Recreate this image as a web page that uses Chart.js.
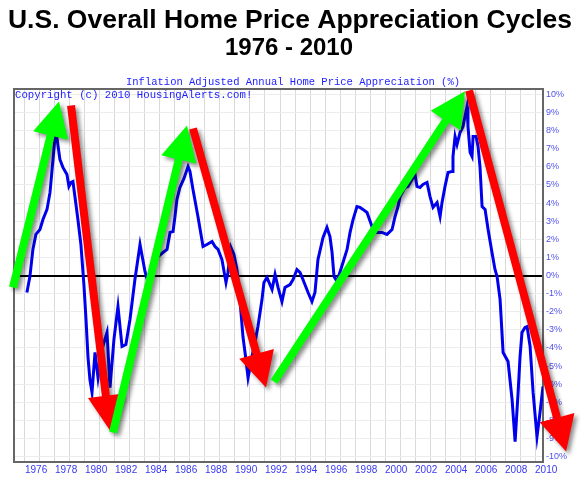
<!DOCTYPE html>
<html>
<head>
<meta charset="utf-8">
<script src="https://cdn.jsdelivr.net/npm/chart.js@4.4.1/dist/chart.umd.min.js"></script>
<style>
  html, body { margin: 0; padding: 0; background: #fff; }
  #wrap { width: 581px; height: 482px; }
</style>
</head>
<body>
<div id="wrap"><canvas id="hpaChart" width="581" height="482"></canvas></div>
<script>
// Inflation adjusted annual home price appreciation (%)
const years = [
  1976.13, 1976.33, 1976.53, 1976.73, 1977.00, 1977.20, 1977.47, 1977.67, 1977.87, 1978.00,
  1978.13, 1978.33, 1978.53, 1978.80, 1978.93, 1979.07, 1979.20, 1979.33, 1979.53, 1979.73,
  1979.93, 1980.07, 1980.20, 1980.33, 1980.47, 1980.67, 1980.87, 1981.13, 1981.47, 1981.67,
  1981.93, 1982.20, 1982.47, 1982.73, 1983.00, 1983.33, 1983.67, 1984.00, 1984.20, 1984.53,
  1984.87, 1985.20, 1985.47, 1985.67, 1985.87, 1986.00, 1986.13, 1986.33, 1986.60, 1986.87,
  1987.00, 1987.20, 1987.53, 1987.87, 1988.13, 1988.47, 1988.67, 1988.87, 1989.13, 1989.40,
  1989.53, 1989.73, 1989.93, 1990.13, 1990.33, 1990.53, 1990.73, 1990.87, 1991.13, 1991.33,
  1991.53, 1991.80, 1991.93, 1992.13, 1992.47, 1992.67, 1992.87, 1993.13, 1993.33, 1993.67,
  1993.87, 1994.13, 1994.33, 1994.53, 1994.87, 1995.13, 1995.33, 1995.53, 1995.87, 1996.13,
  1996.33, 1996.47, 1996.60, 1996.80, 1997.20, 1997.47, 1997.67, 1997.87, 1998.13, 1998.33,
  1998.53, 1998.80, 1999.13, 1999.47, 1999.80, 2000.13, 2000.47, 2000.67, 2000.87, 2001.00,
  2001.33, 2001.53, 2001.80, 2002.00, 2002.13, 2002.33, 2002.53, 2002.80, 2003.00, 2003.20,
  2003.47, 2003.67, 2003.80, 2004.00, 2004.20, 2004.47, 2004.53, 2004.67, 2004.80, 2005.00,
  2005.20, 2005.33, 2005.47, 2005.53, 2005.67, 2005.80, 2005.87, 2006.07, 2006.20, 2006.33,
  2006.47, 2006.67, 2006.87, 2007.13, 2007.33, 2007.47, 2007.67, 2007.87, 2008.20, 2008.47,
  2008.67, 2008.87, 2009.00, 2009.13, 2009.33, 2009.47, 2009.67, 2009.87, 2010.13, 2010.33,
  2010.53
];
const appreciation = [
  -0.94, -0.06, 1.44, 2.27, 2.54, 3.09, 3.65, 4.59, 6.41, 7.62,
  7.62, 6.41, 5.97, 5.58, 4.92, 5.14, 5.19, 4.36, 3.09, 1.71,
  -0.50, -2.43, -4.48, -5.75, -6.46, -4.25, -5.64, -4.09, -3.15, -6.19,
  -3.54, -1.71, -3.92, -3.81, -2.43, -0.22, 1.71, 0.22, -0.39, 0.50,
  1.05, 1.27, 1.44, 2.38, 2.43, 3.26, 4.20, 4.86, 5.36, 6.02,
  5.75, 4.75, 3.26, 1.60, 1.71, 1.88, 1.60, 1.44, 0.88, -0.39,
  0.17, 1.55, 1.16, 0.33, -1.33, -3.37, -4.64, -5.64, -4.48, -3.70,
  -2.82, -1.33, -0.39, -0.11, -0.77, 0.06, -0.66, -1.44, -0.66, -0.50,
  -0.22, 0.33, 0.17, -0.22, -0.94, -1.44, -0.94, 0.88, 2.10, 2.65,
  2.15, 1.27, -0.06, -0.33, 0.72, 1.44, 2.38, 3.09, 3.81, 3.76,
  3.65, 3.48, 2.71, 2.38, 2.38, 2.27, 2.54, 3.26, 3.81, 4.36,
  4.86, 4.92, 5.30, 5.58, 4.92, 4.86, 5.03, 5.14, 4.36, 3.76,
  4.03, 3.26, 4.03, 4.92, 5.69, 5.75, 6.57, 7.68, 7.24, 7.90,
  8.23, 8.78, 9.34, 8.23, 6.80, 6.57, 7.68, 7.68, 7.13, 6.02,
  3.81, 3.65, 2.54, 1.27, 0.33, -0.06, -1.33, -4.25, -4.75, -6.85,
  -9.17, -6.46, -4.48, -3.15, -2.87, -2.82, -3.92, -6.46, -8.90, -7.57,
  -6.13
];

// axis ticks
const xTickYears = [1976, 1977, 1978, 1979, 1980, 1981, 1982, 1983, 1984, 1985, 1986, 1987,
  1988, 1989, 1990, 1991, 1992, 1993, 1994, 1995, 1996, 1997, 1998, 1999, 2000, 2001, 2002,
  2003, 2004, 2005, 2006, 2007, 2008, 2009, 2010];
const yTickValues = [-10, -9, -8, -7, -6, -5, -4, -3, -2, -1, 0, 1, 2, 3, 4, 5, 6, 7, 8, 9, 10];

// cycle arrows drawn over the chart (year / % at tail and tip)
const arrowFromYear = [1975.20, 1979.07, 1981.87, 1987.20, 1992.60, 2005.60];
const arrowFromPct  = [-0.66, 9.39, -8.67, 8.12, -5.86, 10.22];
const arrowToYear   = [1978.27, 1981.67, 1986.80, 1992.07, 2005.33, 2012.07];
const arrowToPct    = [9.61, -8.56, 8.29, -6.19, 10.17, -9.72];
const arrowColors   = ['#00ff00', '#ff0000', '#00ff00', '#ff0000', '#00ff00', '#ff0000'];

const titleText = 'U.S. Overall Home Price Appreciation Cycles';
const subTitleText = '1976 - 2010';
const captionText = 'Inflation Adjusted Annual Home Price Appreciation (%)';
const copyrightText = 'Copyright (c) 2010 HousingAlerts.com!';

// frame around the plot area
const frameBox = {
    id: 'frameBox',
    beforeDatasetsDraw(chart) {
        const { ctx, chartArea: a } = chart;
        ctx.save();
        ctx.strokeStyle = '#666';
        ctx.lineWidth = 2;
        ctx.strokeRect(a.left, a.top, a.right - a.left, a.bottom - a.top);
        ctx.restore();
    }
};

function drawArrow(ctx, x1, y1, x2, y2, color) {
    const ang = Math.atan2(y2 - y1, x2 - x1);
    const len = Math.hypot(x2 - x1, y2 - y1);
    const headLen = 35, headW = 36, shaftW = 8;
    ctx.save();
    ctx.translate(x1, y1);
    ctx.rotate(ang);
    ctx.beginPath();
    ctx.moveTo(0, -shaftW / 2);
    ctx.lineTo(len - headLen, -shaftW / 2);
    ctx.lineTo(len - headLen, -headW / 2);
    ctx.lineTo(len, 0);
    ctx.lineTo(len - headLen, headW / 2);
    ctx.lineTo(len - headLen, shaftW / 2);
    ctx.lineTo(0, shaftW / 2);
    ctx.closePath();
    ctx.shadowColor = 'rgba(0,0,0,0.45)';
    ctx.shadowBlur = 4;
    ctx.shadowOffsetX = 3;
    ctx.shadowOffsetY = 3;
    ctx.fillStyle = color;
    ctx.fill();
    ctx.restore();
}

const cycleArrows = {
    id: 'cycleArrows',
    afterDraw(chart) {
        const { ctx, scales: { x, y } } = chart;
        for (let i = 0; i < arrowColors.length; i++) {
            drawArrow(ctx,
                x.getPixelForValue(arrowFromYear[i]), y.getPixelForValue(arrowFromPct[i]),
                x.getPixelForValue(arrowToYear[i]), y.getPixelForValue(arrowToPct[i]),
                arrowColors[i]);
        }
    }
};

// headings and caption text
const headings = {
    id: 'headings',
    afterDraw(chart) {
        const ctx = chart.ctx;
        ctx.save();
        ctx.fillStyle = '#000';
        ctx.textAlign = 'center';
        ctx.textBaseline = 'alphabetic';
        ctx.font = 'bold 26.5px "Liberation Sans", Arial, sans-serif';
        ctx.fillText(titleText, 290, 28);
        ctx.font = 'bold 24px "Liberation Sans", Arial, sans-serif';
        ctx.fillText(subTitleText, 289, 55);
        ctx.fillStyle = '#1c1cff';
        ctx.textBaseline = 'middle';
        ctx.font = '10.5px "Liberation Mono", "Courier New", monospace';
        ctx.fillText(captionText, 293, 82);
        ctx.textAlign = 'left';
        ctx.font = '10.7px "Liberation Mono", "Courier New", monospace';
        ctx.fillText(copyrightText, 15, 95);
        ctx.restore();
    }
};

const ctx = document.getElementById('hpaChart');
new Chart(ctx, {
    type: 'line',
    data: {
        datasets: [{
            data: years.map((yr, i) => ({ x: yr, y: appreciation[i] })),
            borderColor: '#0000ee',
            borderWidth: 3,
            pointRadius: 0,
            tension: 0,
            fill: false
        }]
    },
    options: {
        responsive: false,
        animation: false,
        layout: { padding: { left: 14, top: 89, right: 0, bottom: 0 } },
        plugins: {
            legend: { display: false },
            tooltip: { enabled: false }
        },
        scales: {
            x: {
                type: 'linear',
                min: 1975.27,
                max: 2010.53,
                afterBuildTicks: function(scale) {
                    scale.ticks = xTickYears.map(v => ({ value: v }));
                },
                afterFit: function(scale) { scale.height = 20; },
                grid: { color: '#d9d9d9', drawTicks: false },
                border: { display: false },
                ticks: {
                    align: 'start',
                    autoSkip: false,
                    maxRotation: 0,
                    padding: 2,
                    color: '#3838f0',
                    font: { family: '"Liberation Sans", Arial, sans-serif', size: 10 },
                    callback: function(value) {
                        return value % 2 === 0 ? String(value) : '';
                    }
                }
            },
            y: {
                position: 'right',
                min: -10.3,
                max: 10.3,
                afterBuildTicks: function(scale) {
                    scale.ticks = yTickValues.map(v => ({ value: v }));
                },
                afterFit: function(scale) { scale.width = 38; },
                grid: {
                    drawTicks: false,
                    color: c => c.tick && c.tick.value === 0 ? '#000' : '#ececec',
                    lineWidth: c => c.tick && c.tick.value === 0 ? 2 : 1
                },
                border: { display: false },
                ticks: {
                    padding: 3,
                    color: '#5050ec',
                    font: { family: '"Liberation Sans", Arial, sans-serif', size: 9 },
                    callback: function(value) { return value + '%'; }
                }
            }
        }
    },
    plugins: [frameBox, cycleArrows, headings]
});
</script>
</body>
</html>
